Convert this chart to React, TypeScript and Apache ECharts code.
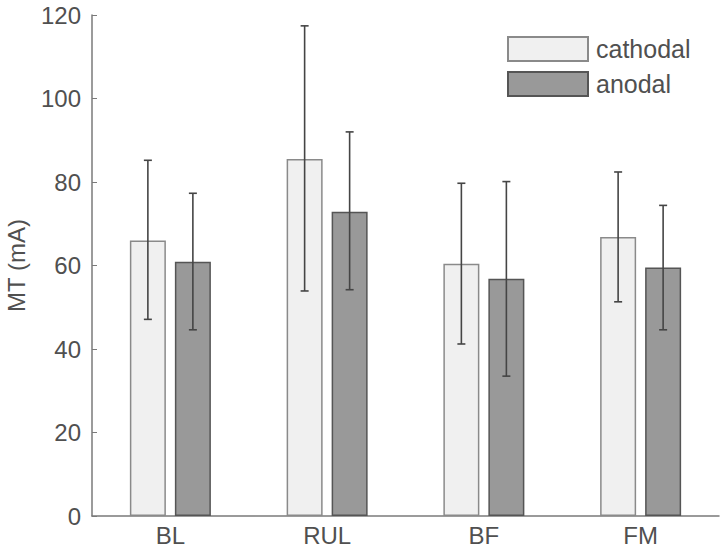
import React, { useEffect, useRef } from "react";
import * as echarts from "echarts";

const categories = ["BL", "RUL", "BF", "FM"];
const cathodalMean = [66, 85.5, 60.4, 66.8];
const cathodalLow = [47.1, 53.9, 41.2, 51.3];
const cathodalHigh = [85.2, 117.4, 79.7, 82.4];
const anodalMean = [60.9, 72.9, 56.8, 59.5];
const anodalLow = [44.6, 54.2, 33.5, 44.6];
const anodalHigh = [77.3, 92, 80.1, 74.4];
const yTicks = [0, 20, 40, 60, 80, 100, 120];

const BAR_W = 36;
const GAP = 9;

function errorSeries(low: number[], high: number[], side: number) {
  return {
    type: "custom",
    z: 10,
    silent: true,
    data: categories.map((_, i) => [i, low[i], high[i]]),
    renderItem: (params: any, api: any) => {
      const i = api.value(0);
      const lo = api.coord([i, api.value(1)]);
      const hi = api.coord([i, api.value(2)]);
      const x = lo[0] + side * (BAR_W + GAP) / 2;
      const cap = 4;
      const style = { stroke: "#454545", lineWidth: 1.6 };
      return {
        type: "group",
        children: [
          { type: "line", shape: { x1: x, y1: lo[1], x2: x, y2: hi[1] }, style },
          { type: "line", shape: { x1: x - cap, y1: lo[1], x2: x + cap, y2: lo[1] }, style },
          { type: "line", shape: { x1: x - cap, y1: hi[1], x2: x + cap, y2: hi[1] }, style },
        ],
      };
    },
  };
}

export default function App() {
  const ref = useRef<HTMLDivElement>(null);
  useEffect(() => {
    const chart = echarts.init(ref.current!, null, { renderer: "svg" });
    const font = "'Liberation Sans', Arial, sans-serif";
    chart.setOption({
      animation: false,
      textStyle: { fontFamily: font },
      grid: { left: 92, right: 1, top: 15, bottom: 35, containLabel: false, outerBoundsMode: "none" },
      legend: {
        left: 507,
        top: 36,
        padding: 0,
        orient: "vertical",
        itemWidth: 80,
        itemHeight: 24,
        itemGap: 9,
        icon: "rect",
        textStyle: { fontSize: 25, lineHeight: 24, color: "#505050", fontFamily: font, padding: [0, 0, 0, 3] },
        data: ["cathodal", "anodal"],
      },
      xAxis: {
        type: "category",
        data: categories,
        axisLine: { lineStyle: { color: "#7a7a7a", width: 1.5 } },
        axisTick: { inside: true, alignWithLabel: true, length: 4, lineStyle: { color: "#7a7a7a" } },
        axisLabel: { fontSize: 24, color: "#505050", margin: 7, fontFamily: font },
      },
      yAxis: {
        type: "value",
        min: yTicks[0],
        max: yTicks[yTicks.length - 1],
        interval: 20,
        name: "MT (mA)",
        nameLocation: "middle",
        nameGap: 64,
        nameTextStyle: { fontSize: 24, color: "#505050", fontFamily: font },
        splitLine: { show: false },
        axisLine: { show: true, lineStyle: { color: "#7a7a7a", width: 1.5 } },
        axisTick: { show: true, inside: true, length: 5, lineStyle: { color: "#7a7a7a" } },
        axisLabel: { fontSize: 24, color: "#505050", margin: 11, fontFamily: font },
      },
      series: [
        {
          name: "cathodal",
          type: "bar",
          data: cathodalMean,
          barWidth: BAR_W,
          barGap: (GAP / BAR_W * 100) + "%",
          itemStyle: { color: "#f0f0f0", borderColor: "#8a8a8a", borderWidth: 1.5 },
        },
        {
          name: "anodal",
          type: "bar",
          data: anodalMean,
          barWidth: BAR_W,
          itemStyle: { color: "#999999", borderColor: "#555555", borderWidth: 1.5 },
        },
        errorSeries(cathodalLow, cathodalHigh, -1),
        errorSeries(anodalLow, anodalHigh, 1),
      ],
    });
    return () => chart.dispose();
  }, []);
  return <div ref={ref} style={{ width: 720, height: 551, position: "absolute", left: 0, top: 0 }} />;
}
